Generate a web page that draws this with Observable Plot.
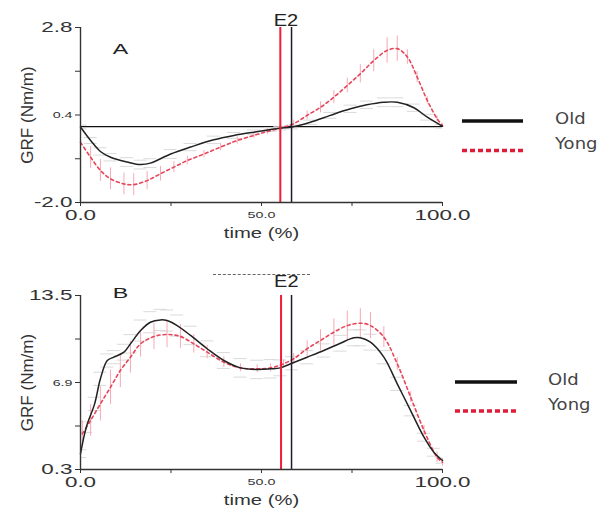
<!DOCTYPE html>
<html><head><meta charset="utf-8">
<script src="https://cdn.jsdelivr.net/npm/d3@7"></script>
<script src="https://cdn.jsdelivr.net/npm/@observablehq/plot@0.6"></script>
<style>
body{margin:0;background:#fff;font-family:"Liberation Sans",Arial,sans-serif}
#wrap{position:relative;width:613px;height:519px;overflow:hidden;background:#fff}
.panel{position:absolute;left:0}
.legsvg{position:absolute;left:0;top:0}
.dash{position:absolute;border-top:1.5px dashed #666;height:0}
</style></head>
<body><div id="wrap"></div>
<script>
// ---------- Panel A data ----------
const timeOldA = [0,2.8,5.5,8.3,12.9,16.6,19.3,24.9,30.4,36.8,42.4,47.9,52.5,55.2,58.4,63.5,69,74.6,79.1,83.8,87.5,92.1,95.8,100];
const oldA     = [0.07,-0.30,-0.60,-0.76,-0.89,-0.96,-0.92,-0.67,-0.48,-0.28,-0.16,-0.07,0.0,0.04,0.07,0.20,0.39,0.57,0.68,0.75,0.75,0.60,0.34,0.09];
const sdOldA   = [0.05,0.08,0.1,0.1,0.12,0.12,0.12,0.12,0.1,0.1,0.08,0.06,0.05,0.05,0.05,0.06,0.08,0.1,0.1,0.12,0.12,0.1,0.08,0.05];
const timeYongA = [0,2.8,5.5,8.3,12,14.7,18.4,22.1,25.8,29.5,34.1,38.7,43.3,47.9,51.6,55.2,58.9,62.6,66.3,70,73.7,77.3,81,84.7,87.5,90.3,93,95.8,98.5,100];
const yongA     = [-0.35,-0.76,-1.12,-1.35,-1.49,-1.51,-1.40,-1.21,-1.03,-0.85,-0.67,-0.48,-0.30,-0.16,-0.05,0.04,0.16,0.39,0.61,0.89,1.21,1.53,1.89,2.17,2.22,1.99,1.44,0.80,0.30,0.11];
const sdYongA   = [0.3,0.3,0.3,0.3,0.3,0.3,0.25,0.2,0.15,0.12,0.1,0.1,0.1,0.08,0.08,0.08,0.1,0.12,0.15,0.18,0.2,0.25,0.3,0.35,0.35,0.2,0.15,0.1,0.08,0.05];
const baselineA = 0.08;
const e2A = {young: 55.2, old: 58.3};
const yTicksA = {big:[2.8,-2.0], small:[0.4], minor:[1.6,-0.8]};

// ---------- Panel B data ----------
const timeOldB = [0,1.6,3.9,5.5,7.4,9.2,12,13.8,16.6,19.3,22.1,23.9,26.7,30.4,35,39.6,44.2,48.8,52.5,55.2,58.4,62.6,67.2,71.8,75.5,77.3,80.1,83.8,87.5,91.2,94.9,97.6,100];
const oldB     = [1.5,3.51,5.28,7.18,8.57,8.82,9.2,9.83,10.84,11.47,11.65,11.6,11.22,10.47,9.46,8.57,8.01,7.89,7.94,8.01,8.36,8.82,9.33,9.88,10.29,10.29,9.96,8.82,6.8,4.77,2.75,1.61,0.98];
const sdOldB   = [0.3,0.4,0.5,0.5,0.5,0.5,0.6,0.7,0.8,0.8,0.8,0.8,0.8,0.7,0.6,0.6,0.7,0.7,0.7,0.6,0.5,0.5,0.5,0.6,0.6,0.6,0.6,0.5,0.5,0.4,0.3,0.3,0.2];
const timeYongB = [0.5,2.8,5.5,8.3,11,13.8,16.6,20.3,23.9,27.6,31.3,35,39.6,44.2,48.8,52.5,56.1,58.9,62.6,66.3,70,73.7,77.3,80.1,83.8,87.5,91.2,94.9,98.5,100];
const yongB     = [3.0,4.02,5.28,6.54,7.81,8.82,9.83,10.39,10.54,10.39,9.83,9.2,8.44,8.01,7.94,8.01,8.32,8.7,9.46,10.09,10.72,11.22,11.4,11.22,10.34,8.32,5.79,3.26,1.23,0.85];
const sdYongB   = [1.0,1.2,1.3,1.3,1.3,1.2,1.0,1.0,1.0,0.9,0.7,0.5,0.4,0.3,0.3,0.3,0.3,0.4,0.6,0.8,1.0,1.1,1.1,1.0,0.8,0.5,0.4,0.4,0.4,0.3];
const e2B = {young: 55.4, old: 58.3};
const yTicksB = {big:[13.5,0.3], small:[6.9], minor:[10.2,3.6]};

const xTicks = {big:[0,100], small:[50], minor:[25,75]};
const seriesNames = ["Old","Yong"];

const rows = (t, v, sd) => t.map((x,i)=>({t:x, v:v[i], sd:sd[i]}));

// font size -> horizontal stretch (the reference picture is widened)
const FS = {bigTick:14, smallTick:9.5, title:15, e2:16, letter:15.5, ylab:17};
const STRETCH = {"14":1.6, "9.5":1.5, "15":1.35, "16":1.25, "15.5":1.5};

function panel({oldRows, yongRows, domain, ticks, e2, baseline, letter, letterDy, e2Dy, height, marginTop, marginBottom}) {
  const marks = [];
  if (baseline !== undefined) marks.push(Plot.ruleY([baseline], {stroke:"#111", strokeWidth:1.2}));
  marks.push(
    Plot.ruleY(oldRows, {y: d=>d.v+d.sd, x1: d=>Math.max(0,d.t-1.8), x2: d=>Math.min(100,d.t+1.8), stroke:"#dadada", strokeWidth:1}),
    Plot.ruleY(oldRows, {y: d=>d.v-d.sd, x1: d=>Math.max(0,d.t-1.8), x2: d=>Math.min(100,d.t+1.8), stroke:"#dadada", strokeWidth:1}),
    Plot.ruleX(yongRows, {x:"t", y1: d=>d.v-d.sd, y2: d=>d.v+d.sd, stroke:"#f6aab4", strokeWidth:1}),
    Plot.line(yongRows, {x:"t", y:"v", stroke:"#e6455a", strokeWidth:1.6, strokeDasharray:"3,3", curve:"catmull-rom"}),
    Plot.line(oldRows, {x:"t", y:"v", stroke:"#222", strokeWidth:1.5, curve:"catmull-rom"}),
    Plot.ruleX([e2.young], {stroke:"#f01c3a", strokeWidth:2}),
    Plot.ruleX([e2.old], {stroke:"#1c1c2e", strokeWidth:1.5}),
    Plot.ruleX([0], {stroke:"#333", strokeWidth:1.4}),
    Plot.ruleY([domain[0]], {stroke:"#333", strokeWidth:1.4}),
    Plot.axisY({ticks: ticks.big, tickFormat: d=>d.toFixed(1), fontSize:FS.bigTick, fill:"#333", stroke:"#333", tickSize:5, tickPadding:3, label:null}),
    Plot.axisY({ticks: ticks.small, tickFormat: d=>d.toFixed(1), fontSize:FS.smallTick, fill:"#333", stroke:"#333", tickSize:5, tickPadding:3, label:null}),
    Plot.axisY({ticks: ticks.minor, tickFormat: ()=>"", stroke:"#333", tickSize:5, label:null}),
    Plot.axisX({ticks: xTicks.big, tickFormat: d=>d.toFixed(1), fontSize:FS.bigTick, fill:"#333", stroke:"#333", tickSize:4, tickPadding:4, label:null}),
    Plot.axisX({ticks: xTicks.small, tickFormat: d=>d.toFixed(1), fontSize:FS.smallTick, fill:"#333", stroke:"#333", tickSize:4, tickPadding:5, label:null}),
    Plot.axisX({ticks: xTicks.minor, tickFormat: ()=>"", stroke:"#333", tickSize:4, label:null}),
    Plot.text(["GRF (Nm/m)"], {frameAnchor:"left", rotate:-90, dx:-53, textAnchor:"middle", fontSize:FS.ylab, fill:"#333"}),
    Plot.text(["time (%)"], {frameAnchor:"bottom", dy:35, textAnchor:"middle", fontSize:FS.title, fill:"#333"}),
    Plot.text([letter], {frameAnchor:"top-left", dx:40, dy:letterDy, textAnchor:"middle", fontSize:FS.letter, fill:"#222"}),
    Plot.text(["E2"], {x:(e2.young+e2.old)/2, frameAnchor:"top", dy:e2Dy, textAnchor:"middle", fontSize:FS.e2, fill:"#222"})
  );
  return Plot.plot({
    width:460, height, marginLeft:80, marginRight:18, marginTop, marginBottom,
    x:{domain:[0,100], axis:null}, y:{domain, axis:null},
    style:{fontFamily:"Liberation Sans, Arial, sans-serif", background:"transparent", overflow:"visible"},
    marks
  });
}

function stretchTexts(svg) {
  svg.querySelectorAll("text").forEach(t => {
    if (!t.textContent || t.textContent.startsWith("GRF")) return;
    const fs = String(parseFloat(getComputedStyle(t).fontSize));
    const f = STRETCH[fs];
    if (!f) return;
    const w = t.getComputedTextLength();
    if (w > 0) {
      t.setAttribute("textLength", (w * f).toFixed(1));
      t.setAttribute("lengthAdjust", "spacingAndGlyphs");
    }
  });
}

const wrap = document.getElementById("wrap");
const pA = panel({oldRows: rows(timeOldA, oldA, sdOldA), yongRows: rows(timeYongA, yongA, sdYongA),
  domain:[-2.0,2.8], ticks:yTicksA, e2:e2A, baseline:baselineA, letter:"A", letterDy:15, e2Dy:-13,
  height:250, marginTop:27, marginBottom:48});
pA.classList.add("panel"); pA.style.top = "0px";
wrap.appendChild(pA);

const pB = panel({oldRows: rows(timeOldB, oldB, sdOldB), yongRows: rows(timeYongB, yongB, sdYongB),
  domain:[0.3,13.5], ticks:yTicksB, e2:e2B, letter:"B", letterDy:-9, e2Dy:-20,
  height:259, marginTop:35, marginBottom:50});
pB.classList.add("panel"); pB.style.top = "260px";
wrap.appendChild(pB);

stretchTexts(pA); stretchTexts(pB);

// dashed decoration above panel B
const dash = document.createElement("div");
dash.className = "dash";
Object.assign(dash.style, {left:"213px", top:"274px", width:"97px"});
wrap.insertBefore(dash, pB);

// legends
const svgNS = "http://www.w3.org/2000/svg";
const leg = document.createElementNS(svgNS, "svg");
leg.setAttribute("class","legsvg"); leg.setAttribute("width","613"); leg.setAttribute("height","519");
wrap.appendChild(leg);
function legend(x0, x1, yOld, yYong, tx) {
  const specs = [
    {name: seriesNames[0], y: yOld, stroke:"#111", dash:null},
    {name: seriesNames[1], y: yYong, stroke:"#e01c38", dash:"5,3"}
  ];
  specs.forEach((s,i)=>{
    const l = document.createElementNS(svgNS,"line");
    l.setAttribute("x1",x0); l.setAttribute("x2",x1); l.setAttribute("y1",s.y); l.setAttribute("y2",s.y);
    l.setAttribute("stroke",s.stroke); l.setAttribute("stroke-width","3.5");
    if (s.dash) l.setAttribute("stroke-dasharray", s.dash);
    leg.appendChild(l);
    const t = document.createElementNS(svgNS,"text");
    t.setAttribute("x",tx); t.setAttribute("y", i===0 ? yOld-2 : yYong-6);
    t.setAttribute("dominant-baseline","middle");
    t.setAttribute("font-family","DejaVu Sans, Verdana, sans-serif");
    t.setAttribute("font-size","15"); t.setAttribute("fill","#444");
    t.textContent = s.name;
    leg.appendChild(t);
    const w = t.getComputedTextLength();
    t.setAttribute("textLength", (w*1.2).toFixed(1));
    t.setAttribute("lengthAdjust","spacingAndGlyphs");
  });
}
legend(462, 523, 121, 150.5, 555);
legend(455, 517, 382, 411, 548);
</script>
</body></html>
